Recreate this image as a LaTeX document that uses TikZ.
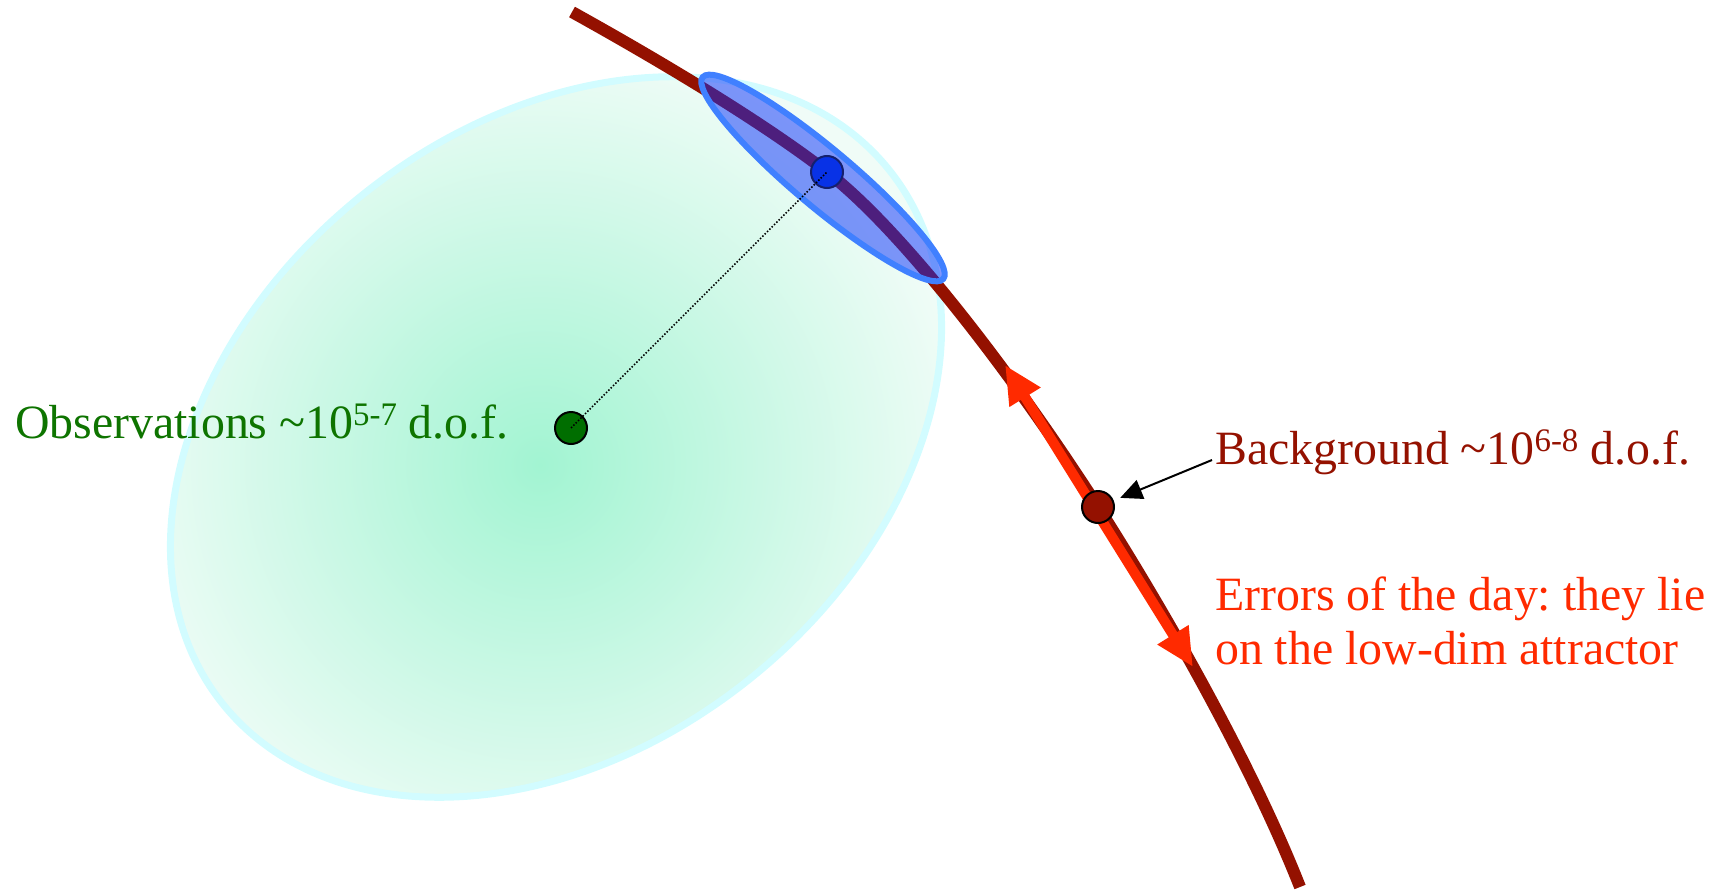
\documentclass[tikz,border=0pt]{standalone}
\usepackage{fontspec}
\setmainfont{Liberation Serif}
\frenchspacing
\usetikzlibrary{arrows.meta}
\definecolor{curvec}{HTML}{941100}
\definecolor{errc}{HTML}{FF2A00}
\definecolor{obsin}{HTML}{A2F4D2}
\definecolor{obsout}{HTML}{F0FCF7}
\definecolor{obsborder}{HTML}{D2FCFF}
\definecolor{obstext}{HTML}{0E7400}
\definecolor{obsdot}{HTML}{006E00}
\definecolor{bluefill}{HTML}{082EFB}
\definecolor{blueborder}{HTML}{4080FF}
\definecolor{bluedot}{HTML}{0832E6}
\definecolor{bluedotb}{HTML}{14206E}
\newcommand{\supx}[1]{\raisebox{13bp}{\fontsize{33}{33}\selectfont #1}}
\tikzset{
  dotnode/.style={circle, draw=black, line width=2bp, minimum size=32bp, inner sep=0pt},
  label48/.style={anchor=base west, inner sep=0pt, font=\fontsize{48}{55}\selectfont},
}
\begin{document}
\begin{tikzpicture}[x=1bp,y=-1bp]
\useasboundingbox (0,0) rectangle (1721,891);
% observation ellipse
\begin{scope}
  \clip[rotate around={38.7:(556,437)}] (556,437) ellipse [x radius=427, y radius=310];
  \fill[obsout] (0,0) rectangle (1721,891);
  \shade[inner color=obsin, outer color=obsout] (540,465) circle [radius=430];
\end{scope}
\draw[obsborder, line width=7bp, rotate around={38.7:(556,437)}] (556,437) ellipse [x radius=427, y radius=310];
% attractor curve
\draw[curvec, line width=12bp] (572,12) .. controls (680,72) and (770,128) .. (827,172)
  .. controls (900,228) and (1010,370) .. (1098,507)
  .. controls (1160,604) and (1250,760) .. (1300,887);
% errors of the day
\coordinate (e1) at (1005,365);
\coordinate (e2) at (1193,667);
\draw[errc, line width=10bp, {Triangle[length=38bp,width=34bp]}-{Triangle[length=38bp,width=34bp]}] (e1) -- (e2);
% analysis ellipse
\draw[blueborder, line width=6bp, fill=bluefill, fill opacity=0.5, rotate around={-40:(823,178)}] (823,178) ellipse [x radius=157, y radius=29];
% dots
\node[dotnode, fill=obsdot] (obs) at (571,428) {};
\node[dotnode, fill=bluedot, draw=bluedotb] (ana) at (827,172) {};
\node[dotnode, fill=curvec] (bg) at (1098,507) {};
\draw[black, line width=1.5bp, dash pattern=on 1.5bp off 1.8bp] (obs.center) -- (ana.center);
% labels
\node[label48, text=obstext] (obslab) at (15,438) {Observations \textasciitilde10\supx{5-7} d.o.f.};
\node[label48, text=curvec] (bglab) at (1215,464) {Background \textasciitilde10\supx{6-8} d.o.f.};
\node[label48, text=errc] (errlab1) at (1215,610) {Errors of the day: they lie};
\node[label48, text=errc] (errlab2) at (1215,664) {on the low-dim attractor};
\coordinate (bgstart) at (1212,460);
\draw[black, line width=2bp, -{Triangle[length=22bp,width=20bp]}, shorten >=7bp] (bgstart) -- (bg);
\end{tikzpicture}
\end{document}
